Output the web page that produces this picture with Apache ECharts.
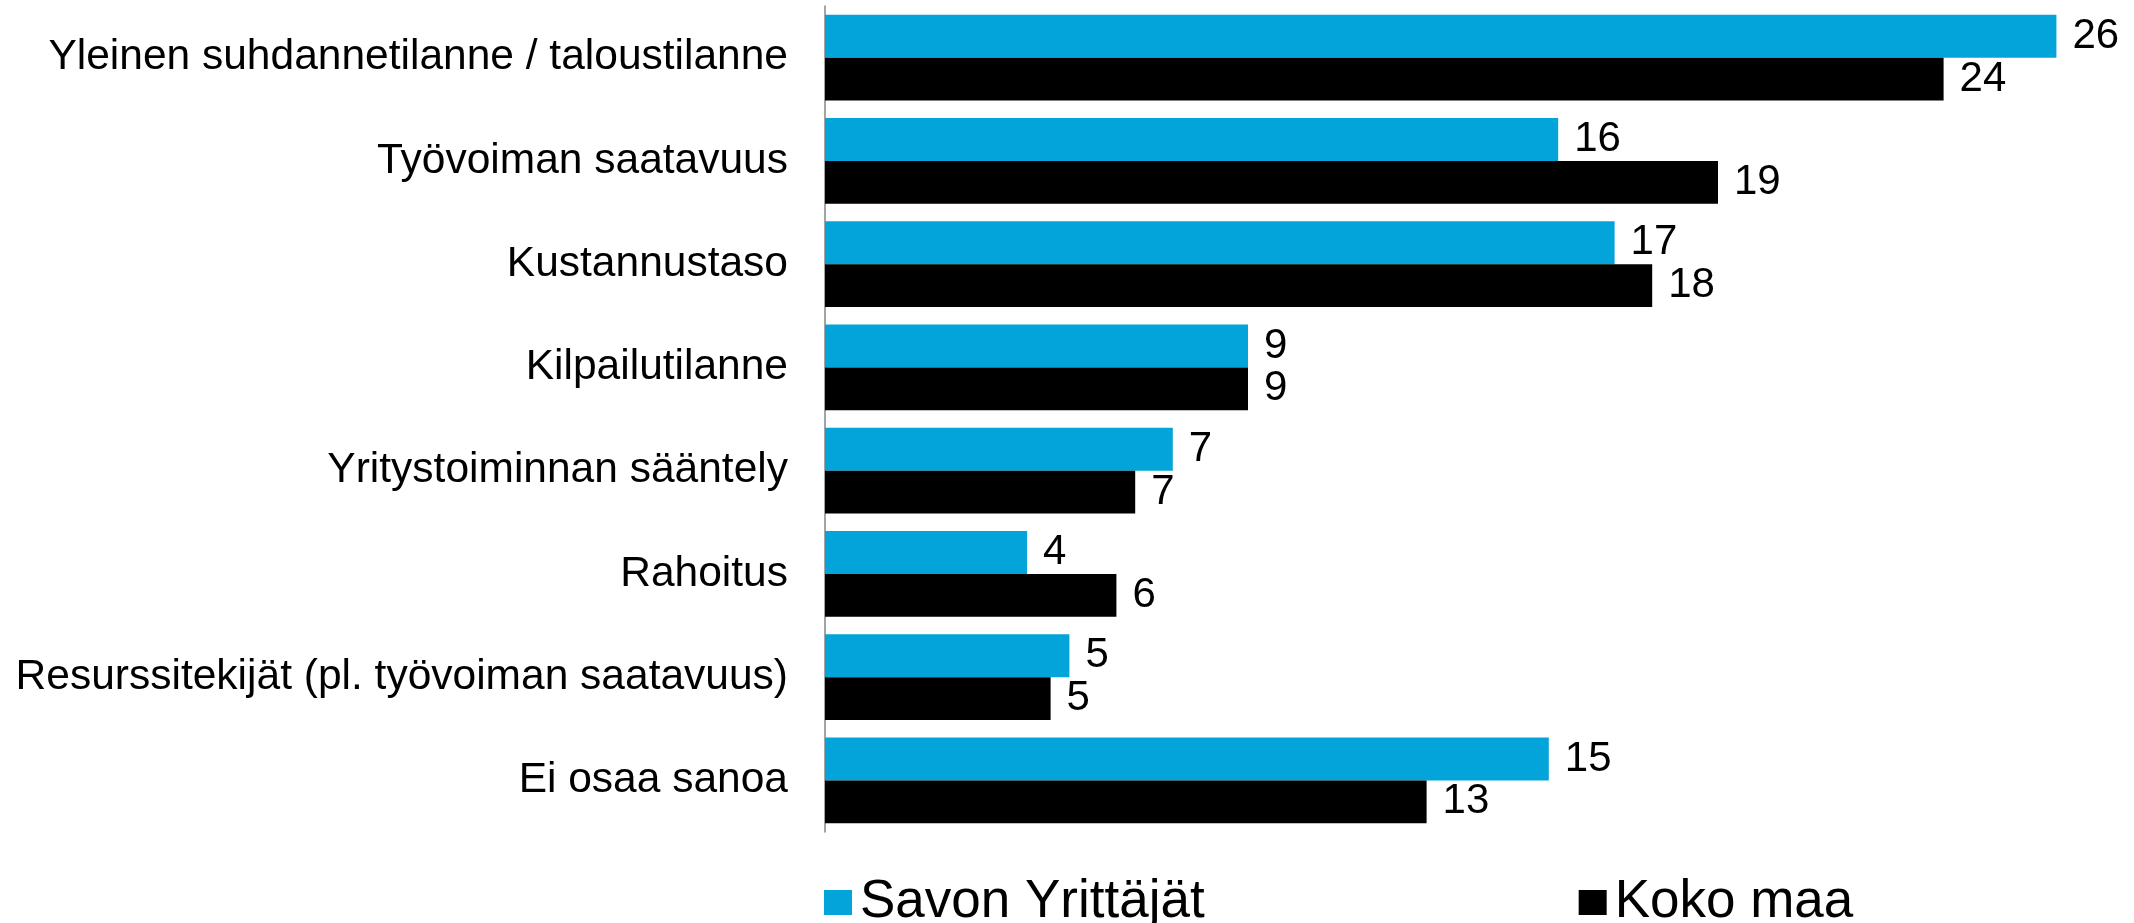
<!DOCTYPE html>
<html>
<head>
<meta charset="utf-8">
<script src="https://cdn.jsdelivr.net/npm/echarts@6/dist/echarts.min.js"></script>
<style>
	html, body { margin: 0; padding: 0; background: #fff; }
	#chart { width: 2134px; height: 923px; }
</style>
</head>
<body>
<div id="chart"></div>
<script>
// 分类（从上到下）
const categories = [
	"Yleinen suhdannetilanne / taloustilanne",
	"Työvoiman saatavuus",
	"Kustannustaso",
	"Kilpailutilanne",
	"Yritystoiminnan sääntely",
	"Rahoitus",
	"Resurssitekijät (pl. työvoiman saatavuus)",
	"Ei osaa sanoa",
];

// 数值（%），标签显示四舍五入后的整数
const savoValues = [26.2, 15.6, 16.8, 9.0, 7.4, 4.3, 5.2, 15.4];
const kokoValues = [23.8, 19.0, 17.6, 9.0, 6.6, 6.2, 4.8, 12.8];

const seriesNames = ["Savon Yrittäjät", "Koko maa"];

const FONT = "Liberation Sans, Arial, sans-serif";

const myChart = echarts.init(document.querySelector("#chart"));

const barLabel = {
	show: true,
	position: "right",
	distance: 16,
	fontSize: 42,
	fontFamily: FONT,
	color: "#000",
	formatter: (p) => Math.round(p.value),
};

myChart.setOption({
	animation: false,
	grid: {
		left: 825,
		top: 6,
		height: 826,
		width: 1269,
	},
	legend: {
		left: 819,
		top: 871,
		icon: "rect",
		itemWidth: 28,
		itemHeight: 25,
		itemGap: 374,
		textStyle: {
			fontSize: 53,
			fontFamily: FONT,
			color: "#000",
			padding: [0, 0, 0, 3],
		},
		data: seriesNames,
	},
	xAxis: {
		type: "value",
		min: 0,
		max: 27,
		show: false,
	},
	yAxis: {
		type: "category",
		inverse: true,
		data: categories,
		axisLine: {
			lineStyle: {
				color: "#868686",
				width: 1.5,
			},
		},
		axisTick: { show: false },
		axisLabel: {
			fontSize: 42.5,
			fontFamily: FONT,
			color: "#000",
			margin: 37,
		},
	},
	series: [
		{
			name: seriesNames[0],
			type: "bar",
			data: savoValues,
			barGap: "0%",
			barCategoryGap: "17%",
			itemStyle: { color: "#02A4D9" },
			label: barLabel,
		},
		{
			name: seriesNames[1],
			type: "bar",
			data: kokoValues,
			barGap: "0%",
			barCategoryGap: "17%",
			itemStyle: { color: "#000000" },
			label: barLabel,
		},
	],
});
</script>
</body>
</html>
